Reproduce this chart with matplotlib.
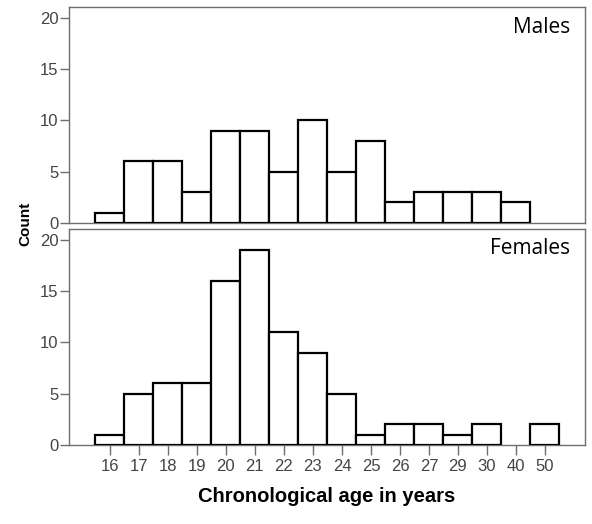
import matplotlib
matplotlib.use("Agg")
import matplotlib.pyplot as plt
import numpy as np

ages = ["16", "17", "18", "19", "20", "21", "22", "23", "24", "25", "26", "27", "29", "30", "40", "50"]
males = [1, 6, 6, 3, 9, 9, 5, 10, 5, 8, 2, 3, 3, 3, 2, 0]
females = [1, 5, 6, 6, 16, 19, 11, 9, 5, 1, 2, 2, 1, 2, 0, 2]
y_ticks = [0, 5, 10, 15, 20]

fig = plt.figure(figsize=(5.92, 5.24), dpi=100)
W, H = 592, 524

def ax_rect(l, t, r, b):
    return [l / W, 1 - b / H, (r - l) / W, (b - t) / H]

ax1 = fig.add_axes(ax_rect(69, 7, 585, 223))
ax2 = fig.add_axes(ax_rect(69, 229, 585, 445))

frame_col = "#6e6e6e"
tick_col = "#444444"
x = np.arange(len(ages))

for ax, vals, label in [(ax1, males, "Males"), (ax2, females, "Females")]:
    vals = np.asarray(vals)
    nz = vals > 0
    ax.bar(x[nz], vals[nz], width=1.0, color="white", edgecolor="black", linewidth=1.6, zorder=3)
    ax.set_xlim(-1.41, 16.38)
    ax.set_ylim(0, 21.07)
    ax.set_yticks(y_ticks)
    ax.set_yticklabels([str(v) for v in y_ticks], fontfamily="Liberation Sans", fontsize=12, color=tick_col)
    for s in ax.spines.values():
        s.set_color(frame_col)
        s.set_linewidth(1.0)
    ax.tick_params(axis="y", direction="out", length=6.5, width=1.0, color=frame_col, pad=1)
    ax.text(0.971, 0.905 if label == "Males" else 0.91, label, transform=ax.transAxes,
            ha="right", va="center", fontfamily="Open Sans", fontsize=15, color="black")

ax1.set_xticks([])
ax2.set_xticks(x)
ax2.set_xticklabels(ages, fontfamily="Liberation Sans", fontsize=12, color=tick_col)
ax2.tick_params(axis="x", direction="out", length=7, width=1.0, color=frame_col, pad=3)

fig.text(327 / W, 1 - 497 / H, "Chronological age in years", ha="center", va="center",
         fontfamily="Liberation Sans", fontweight="bold", fontsize=14.5, color="black")
fig.text(25 / W, 1 - 224 / H, "Count", ha="center", va="center", rotation=90,
         fontfamily="Liberation Sans", fontweight="bold", fontsize=11, color="black")

fig.savefig("out.png", dpi=100)
